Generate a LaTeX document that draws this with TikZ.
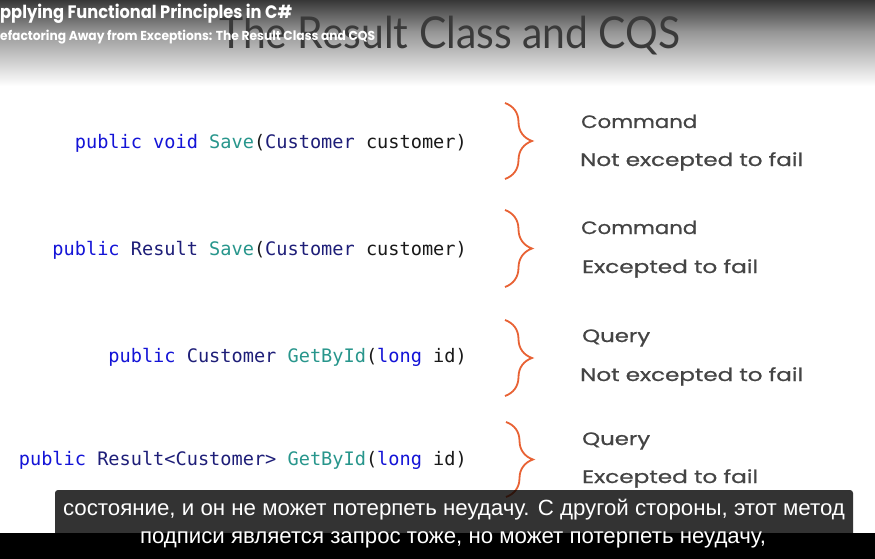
\documentclass[tikz,border=0pt]{standalone}
\usepackage{fontspec}
\setmainfont{Poppins}
\newfontfamily\codefont{DejaVu Sans Mono}
\newfontfamily\subfont{Liberation Sans}
\newfontfamily\labfont[FakeBold=0.7]{Poppins}
\newfontfamily\ttlfont{Lato}
\usetikzlibrary{decorations.pathreplacing}
\definecolor{ckwc}{RGB}{20,20,215}
\definecolor{ctyc}{RGB}{30,30,120}
\definecolor{cmec}{RGB}{40,150,140}
\definecolor{ctxc}{RGB}{25,25,25}
\definecolor{bracec}{RGB}{232,98,52}
\definecolor{labc}{RGB}{68,68,68}
\definecolor{ttlc}{RGB}{58,58,58}
\newlength\fitlen
\newcommand\fitx[2]{\settowidth\fitlen{#2}\pgfmathsetmacro\fitf{#1/\fitlen}\scalebox{\fitf}[1]{#2}}
\newcommand\ckw[1]{\textcolor{ckwc}{#1}}
\newcommand\cty[1]{\textcolor{ctyc}{#1}}
\newcommand\cme[1]{\textcolor{cmec}{#1}}
\begin{document}
\begin{tikzpicture}[x=1pt,y=-1pt,
  code/.style={anchor=base east, inner sep=0pt, font=\codefont\fontsize{18.6}{20}\selectfont, text=ctxc},
  label/.style={anchor=base west, inner sep=0pt, font=\labfont\fontsize{18}{20}\selectfont, text=labc},
  curly/.style={draw=bracec, line width=1.8pt, decorate, decoration={brace, amplitude=27pt}},
  subline/.style={anchor=base, inner sep=0pt, font=\subfont\fontsize{22}{24}\selectfont, text=white},
  hdr/.style={anchor=base west, inner sep=0pt, text=white, font=\bfseries}]
\useasboundingbox (0,0) rectangle (875,559);
\fill[white] (0,0) rectangle (875,559);
% header gradient
\shade[top color={rgb,255:red,55;green,55;blue,55}, bottom color={rgb,255:red,150;green,150;blue,150}] (0,0) rectangle (875,32);
\shade[top color={rgb,255:red,150;green,150;blue,150}, bottom color=white] (0,32) rectangle (875,86);
% title
\node[anchor=base west, inner sep=0pt, text=ttlc, font=\ttlfont\fontsize{44}{48}\selectfont] (title) at (219,49) {\fitx{461}{The Result Class and CQS}};
\node[hdr, font=\bfseries\fontsize{18}{20}\selectfont] (course) at (0,19) {\fitx{292}{pplying Functional Principles in C\#}};
\node[hdr, font=\bfseries\fontsize{13}{16}\selectfont] (module) at (0,41) {\fitx{375}{efactoring Away from Exceptions: The Result Class and CQS}};
% code lines
\node[code] (c1) at (467,148) {\ckw{public void} \cme{Save}(\cty{Customer} customer)};
\node[code] (c2) at (467,255) {\ckw{public} \cty{Result} \cme{Save}(\cty{Customer} customer)};
\node[code] (c3) at (467,362) {\ckw{public} \cty{Customer} \cme{GetById}(\ckw{long} id)};
\node[code] (c4) at (467,465) {\ckw{public} \cty{Result<Customer>} \cme{GetById}(\ckw{long} id)};
% braces
\coordinate (b1t) at (505,103); \coordinate (b1b) at (505,179);
\coordinate (b2t) at (505,210); \coordinate (b2b) at (505,287);
\coordinate (b3t) at (505,320); \coordinate (b3b) at (505,396);
\coordinate (b4t) at (506,422); \coordinate (b4b) at (506,497);
\draw[curly] (b1t) -- (b1b);
\draw[curly] (b2t) -- (b2b);
\draw[curly] (b3t) -- (b3b);
\draw[curly] (b4t) -- (b4b);
% labels
\node[label] (l1a) at (581,128) {\fitx{116}{Command}};
\node[label] (l1b) at (580,166) {\fitx{223}{Not excepted to fail}};
\node[label] (l2a) at (581,234) {\fitx{116}{Command}};
\node[label] (l2b) at (582,273) {\fitx{176}{Excepted to fail}};
\node[label] (l3a) at (582,342) {\fitx{68}{Query}};
\node[label] (l3b) at (580,381) {\fitx{223}{Not excepted to fail}};
\node[label] (l4a) at (582,445) {\fitx{68}{Query}};
\node[label] (l4b) at (582,483) {\fitx{176}{Excepted to fail}};
% subtitles
\fill[black, opacity=0.8, rounded corners=3pt] (55,490) rectangle (853,540);
\fill[black] (0,533) rectangle (875,559);
\node[subline] (s1) at (454,515) {\fitx{782}{состояние, и он не может потерпеть неудачу. С другой стороны, этот метод}};
\node[subline] (s2) at (453,543) {\fitx{626}{подписи является запрос тоже, но может потерпеть неудачу,}};
\end{tikzpicture}
\end{document}
